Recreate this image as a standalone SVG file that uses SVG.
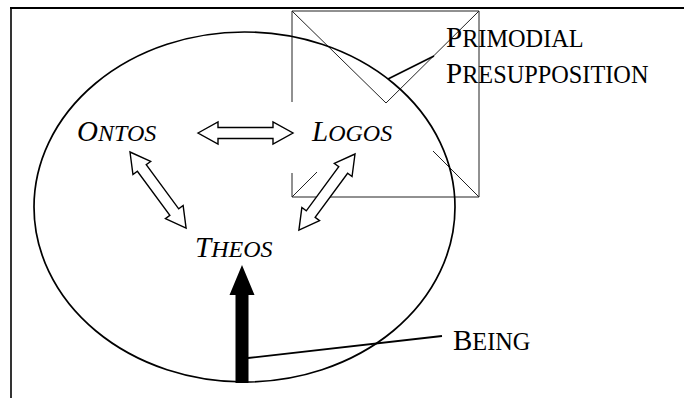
<svg xmlns="http://www.w3.org/2000/svg" xmlns:xlink="http://www.w3.org/1999/xlink" width="684" height="403" viewBox="0 0 684 403">
<style>
.frame{stroke:#000;fill:none;}
.thin{stroke:#222;stroke-width:1;fill:none;}
.ell{stroke:#000;stroke-width:1.7;fill:none;}
.lbl{font-family:"Liberation Serif","Times New Roman",serif;fill:#000;}
.it{font-style:italic;}
.hollow{fill:#fff;stroke:#000;stroke-width:1.4;stroke-linejoin:miter;}
.lead{stroke:#000;stroke-width:1.8;fill:none;}
</style>
<defs>
<path id="dbl" d="M0,0 L20,-11 L20,-5.5 L75,-5.5 L75,-11 L95,0 L75,11 L75,5.5 L20,5.5 L20,11 Z"/>
</defs>
<rect width="684" height="403" fill="#fff"/>
<g id="frame">
<line class="frame" x1="10" y1="8" x2="684" y2="8" stroke-width="2"/>
<line class="frame" x1="11" y1="8" x2="11" y2="398" stroke-width="1.6"/>
</g>
<g id="primodial-box">
<line class="thin" x1="292" y1="11" x2="479" y2="11"/>
<line class="thin" x1="479" y1="11" x2="479" y2="197"/>
<line class="thin" x1="292" y1="197" x2="479" y2="197"/>
<line class="thin" x1="292" y1="11" x2="292" y2="102"/>
<line class="thin" x1="292" y1="173" x2="292" y2="197"/>
<line class="thin" x1="292" y1="11" x2="386" y2="103"/>
<line class="thin" x1="479" y1="11" x2="386" y2="103"/>
<line class="thin" x1="433" y1="151" x2="479" y2="197"/>
<line class="thin" x1="292" y1="197" x2="317" y2="172"/>
</g>
<g id="being-ellipse">
<ellipse class="ell" cx="244.5" cy="207" rx="210.5" ry="175"/>
</g>
<g id="ontos"><text class="lbl it" x="77" y="141" font-size="29">O<tspan font-size="24">NTOS</tspan></text></g>
<g id="logos"><text class="lbl it" x="312" y="141" font-size="29">L<tspan font-size="24">OGOS</tspan></text></g>
<g id="theos"><text class="lbl it" x="195" y="257" font-size="29">T<tspan font-size="24">HEOS</tspan></text></g>
<g id="primodial-presupposition">
<text class="lbl" x="446" y="47" font-size="29">P<tspan font-size="24.3">RIMODIAL</tspan></text>
<text class="lbl" x="446" y="83" font-size="29">P<tspan font-size="24.3">RESUPPOSITION</tspan></text>
</g>
<g id="being"><text class="lbl" x="453" y="350" font-size="29">B<tspan font-size="24.3">EING</tspan></text></g>
<g id="connectors">
<use xlink:href="#dbl" class="hollow" transform="translate(198,133)"/>
<use xlink:href="#dbl" class="hollow" transform="translate(130,152) rotate(53.6) scale(0.995,1)"/>
<use xlink:href="#dbl" class="hollow" transform="translate(355,154) rotate(126.4) scale(0.995,1)"/>
<path d="M242,265 L254.5,295 L248.5,295 L248.5,383 L235.5,383 L235.5,295 L229.5,295 Z" fill="#000"/>
<line class="lead" x1="388" y1="79" x2="434" y2="56"/>
<line class="lead" x1="248" y1="358" x2="442" y2="336"/>
</g>
</svg>
